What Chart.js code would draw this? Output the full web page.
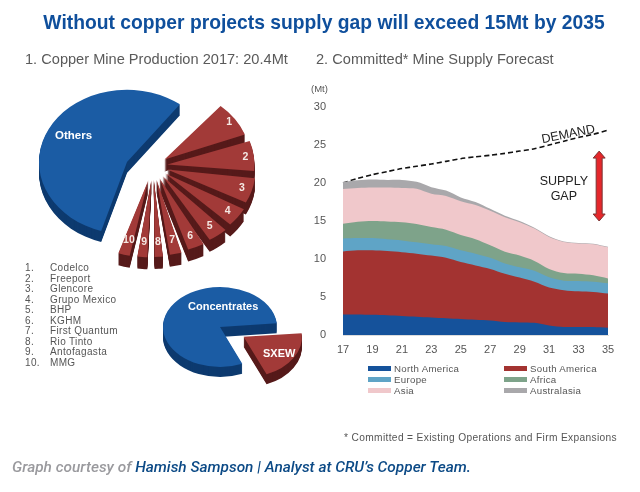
<!DOCTYPE html>
<html>
<head>
<meta charset="utf-8">
<script src="https://cdn.jsdelivr.net/npm/chart.js@4"></script>
<style>
  html, body { margin: 0; padding: 0; background: #fff; }
  #page { position: relative; width: 640px; height: 492px; overflow: hidden; font-family: "Liberation Sans", Arial, sans-serif; }
  #page canvas { position: absolute; left: 0; top: 0; }
  .txt { position: absolute; white-space: nowrap; line-height: 1; }
  .center { transform: translateX(-50%); }
  .pie-label { color: #fff; font-weight: bold; font-size: 11px; }
  .sub { font-size: 14.6px; color: #5a5a5a; top: 52px; }
  .small { font-size: 10px; color: #555; letter-spacing: .35px; }
  .legend-text { font-size: 9.7px; letter-spacing: .3px; }
  .swatch { position: absolute; width: 23px; height: 5px; }
</style>
</head>
<body>
<div id="page">
  <canvas id="othersPie"></canvas>
  <canvas id="minesPie"></canvas>
  <canvas id="formPie"></canvas>
  <canvas id="supplyChart" width="640" height="492"></canvas>

  <div class="txt center" style="left:324px;top:13px;font-size:19.3px;font-weight:bold;color:#0f4f9c">Without copper projects supply gap will exceed 15Mt by 2035</div>
  <div class="txt sub" style="left:25px">1. Copper Mine Production 2017: 20.4Mt</div>
  <div class="txt sub" style="left:316px">2. Committed* Mine Supply Forecast</div>

  <div class="txt pie-label" style="left:55px;top:130px;font-size:11.5px">Others</div>
  <div class="txt pie-label" style="left:188px;top:301px">Concentrates</div>
  <div class="txt pie-label" style="left:263px;top:348px">SXEW</div>

  <div id="companyList"></div>
  <div id="legendBox"></div>

  <div class="txt" style="left:311px;top:84px;font-size:9.5px;color:#555">(Mt)</div>
  <div class="txt small" style="left:344px;top:433px;font-size:10.2px">* Committed = Existing Operations and Firm Expansions</div>
  <div class="txt" style="left:12px;top:460px;font-family:Roboto;font-style:italic;font-weight:500;font-size:15.4px;color:#9a9a9e">Graph courtesy of <span style="color:#0c4a86">Hamish Sampson | Analyst at CRU’s Copper Team.</span></div>
</div>

<script>
// ===============================
// DATA
// ===============================
const years = ["17","18","19","20","21","22","23","24","25","26","27","28","29","30","31","32","33","34","35"];
const yTicks = [0, 5, 10, 15, 20, 25, 30];

const northAmerica = [2.7,2.7,2.65,2.6,2.5,2.4,2.3,2.2,2.1,2.0,1.9,1.7,1.65,1.6,1.25,1.05,1.05,1.05,0.95];
const southAmerica = [8.3,8.45,8.5,8.45,8.4,8.3,8.15,7.95,7.5,7.15,6.8,6.35,5.9,5.4,5.0,4.85,4.7,4.6,4.5];
const europe = [1.7,1.6,1.6,1.55,1.55,1.5,1.5,1.55,1.55,1.55,1.45,1.35,1.35,1.45,1.35,1.25,1.35,1.35,1.35];
const africa = [1.95,2.15,2.25,2.35,2.4,2.4,2.25,2.15,2.0,1.9,1.65,1.55,1.55,1.3,1.1,1.0,0.95,0.85,0.65];
const asia = [4.55,4.45,4.4,4.45,4.5,4.65,4.4,4.45,4.45,4.5,4.55,4.55,4.4,4.25,4.2,4.1,4.0,4.1,4.1];
const australasia = [0.95,1.0,1.05,1.0,1.05,0.9,0.85,0.7,0.5,0.4,0.25,0.2,0.15,0.1,0.1,0.05,0.05,0.05,0.05];
const demand = [20.0,20.6,21.1,21.5,21.9,22.2,22.5,22.85,23.2,23.45,23.65,23.9,24.2,24.5,25.0,25.5,26.0,26.4,26.95];

const regionNames = ["North America","South America","Europe","Africa","Asia","Australasia"];
const regionColors = ["#15529b","#a33331","#5fa4c6","#7ea38a","#f0c8cb","#a9a8ab"];

const companies = ["Codelco","Freeport","Glencore","Grupo Mexico","BHP","KGHM","First Quantum","Rio Tinto","Antofagasta","MMG"];
const companyOutput = [1.70,1.47,1.25,0.96,0.85,0.74,0.57,0.45,0.51,0.57];
const othersOutput = 11.33;
const sliceNumbers = ["1","2","3","4","5","6","7","8","9","10"];

const formNames = ["Concentrates","SXEW"];
const formOutput = [16.3,4.1];

const BLUE = "#1b5ca4", BLUE_DARK = "#0d3a6f", RED = "#a23a38", RED_DARK = "#561a1a";

// ===============================
// PLAIN TEXT BITS
// ===============================
const listBox = document.getElementById("companyList");
companies.forEach((name, i) => {
  const top = 263 + i * 10.55;
  listBox.innerHTML += `<div class="txt small" style="left:25px;top:${top}px">${i + 1}.</div>` +
    `<div class="txt small" style="left:50px;top:${top}px">${name}</div>`;
});

const legendBox = document.getElementById("legendBox");
regionNames.forEach((name, i) => {
  const left = i % 2 ? 504 : 368;
  const top = 364 + Math.floor(i / 2) * 11;
  legendBox.innerHTML += `<div class="swatch" style="left:${left}px;top:${top + 2}px;background:${regionColors[i]}"></div>` +
    `<div class="txt small legend-text" style="left:${left + 26}px;top:${top}px">${name}</div>`;
});

// ===============================
// 3D LOOK FOR THE PIES
// squash into an ellipse and stamp darker copies underneath
// ===============================
const tiltPlugin = {
  id: "tilt",
  beforeDatasetsDraw(chart, args, opts) {
    const ctx = chart.ctx;
    const meta = chart.getDatasetMeta(0);
    const cx = meta.data[0].x, cy = meta.data[0].y;
    ctx.save();
    ctx.translate(cx, cy);
    ctx.scale(1, opts.squash);
    ctx.translate(-cx, -cy);
    for (let d = opts.depth; d > 0; d--) {
      ctx.save();
      ctx.translate(0, d / opts.squash);
      meta.data.forEach((arc, i) => {
        if (!opts.sideColors[i]) return;
        const keep = arc.options;
        arc.options = Object.assign(Object.create(keep), {
          backgroundColor: opts.sideColors[i],
          borderColor: opts.sideColors[i]
        });
        arc.draw(ctx);
        arc.options = keep;
      });
      ctx.restore();
    }
  },
  afterDatasetsDraw(chart, args, opts) {
    const ctx = chart.ctx;
    ctx.restore();
    if (!opts.numbers) return;
    const meta = chart.getDatasetMeta(0);
    ctx.fillStyle = "#f4e9e4";
    ctx.font = "bold 10.5px 'Liberation Sans'";
    ctx.textAlign = "center";
    ctx.textBaseline = "middle";
    opts.numbers.forEach((t, i) => {
      const arc = meta.data[i];
      const a = (arc.startAngle + arc.endAngle) / 2;
      ctx.fillText(t, arc.x + Math.cos(a) * opts.numberRadius, arc.y + Math.sin(a) * opts.numberRadius * opts.squash);
    });
  }
};

// each pie gets its own square canvas, placed so its middle lands on box.x / box.y
function buildPie(id, box, radius, rotation, values, colors, sides, offsets, tilt) {
  const canvas = document.getElementById(id);
  const size = 360;
  canvas.width = size;
  canvas.height = size;
  canvas.style.left = (box.x - size / 2) + "px";
  canvas.style.top = (box.y - size / 2) + "px";
  return new Chart(canvas, {
    type: "pie",
    data: {
      datasets: [{
        data: values,
        backgroundColor: colors,
        borderWidth: 0,
        offset: offsets
      }]
    },
    options: {
      responsive: false,
      animation: false,
      rotation: rotation,
      radius: radius,
      plugins: {
        legend: { display: false },
        tooltip: { enabled: false },
        tilt: Object.assign({ sideColors: sides }, tilt)
      }
    },
    plugins: [tiltPlugin]
  });
}

const mineValues = companyOutput.concat([othersOutput]);
const noSlice = "rgba(0,0,0,0)";

buildPie("othersPie", { x: 127, y: 162 }, 88, 37,
  mineValues,
  companies.map(() => noSlice).concat([BLUE]),
  companies.map(() => null).concat([BLUE_DARK]),
  0,
  { squash: 0.82, depth: 11 });

buildPie("minesPie", { x: 153, y: 166 }, 79, 40,
  mineValues,
  companies.map(() => RED).concat([noSlice]),
  companies.map(() => RED_DARK).concat([null]),
  companies.map((c, i) => 56 + i * 1.8).concat([0]),
  { squash: 0.82, depth: 12, numbers: sliceNumbers, numberRadius: 93 });

buildPie("formPie", { x: 220, y: 327 }, 57, 157,
  formOutput,
  [BLUE, RED],
  [BLUE_DARK, RED_DARK],
  [0, 110],
  { squash: 0.7, depth: 10 });

// ===============================
// SUPPLY vs DEMAND
// ===============================
const regionSeries = [northAmerica, southAmerica, europe, africa, asia, australasia];

const gapMarks = {
  id: "gapMarks",
  afterDraw(chart) {
    const { ctx, scales: { x, y } } = chart;
    ctx.save();

    // DEMAND label sits above the line
    ctx.save();
    ctx.translate(x.getPixelForValue(15.3), y.getPixelForValue(26.4));
    ctx.rotate(-0.2);
    ctx.fillStyle = "#222";
    ctx.font = "12.5px 'Liberation Sans'";
    ctx.textAlign = "center";
    ctx.textBaseline = "middle";
    ctx.fillText("DEMAND", 0, 0);
    ctx.restore();

    ctx.fillStyle = "#222";
    ctx.font = "12.5px 'Liberation Sans'";
    ctx.textAlign = "center";
    ctx.textBaseline = "middle";
    ctx.fillText("SUPPLY", x.getPixelForValue(15), y.getPixelForValue(20.2));
    ctx.fillText("GAP", x.getPixelForValue(15), y.getPixelForValue(18.2));

    // red double arrow
    const ax = x.getPixelForValue(17.4);
    const top = y.getPixelForValue(24.2), bottom = y.getPixelForValue(15);
    ctx.beginPath();
    ctx.moveTo(ax, top);
    ctx.lineTo(ax + 6, top + 7);
    ctx.lineTo(ax + 3, top + 7);
    ctx.lineTo(ax + 3, bottom - 7);
    ctx.lineTo(ax + 6, bottom - 7);
    ctx.lineTo(ax, bottom);
    ctx.lineTo(ax - 6, bottom - 7);
    ctx.lineTo(ax - 3, bottom - 7);
    ctx.lineTo(ax - 3, top + 7);
    ctx.lineTo(ax - 6, top + 7);
    ctx.closePath();
    ctx.fillStyle = "#e5272b";
    ctx.strokeStyle = "#7a3534";
    ctx.lineWidth = 1;
    ctx.fill();
    ctx.stroke();
    ctx.restore();
  }
};

new Chart(document.getElementById("supplyChart"), {
  type: "line",
  data: {
    labels: years,
    datasets: regionSeries.map((values, i) => ({
      label: regionNames[i],
      data: values,
      backgroundColor: regionColors[i],
      borderWidth: 0,
      pointRadius: 0,
      fill: true,
      tension: 0.3,
      stack: "supply",
      yAxisID: "y"
    })).concat([{
      label: "Demand",
      data: demand,
      borderColor: "#111",
      borderWidth: 1.6,
      borderDash: [5, 3],
      pointRadius: 0,
      fill: false,
      tension: 0.2,
      yAxisID: "yDemand"
    }])
  },
  options: {
    responsive: false,
    animation: false,
    layout: { padding: { left: 313, right: 32, top: 107, bottom: 127 } },
    plugins: { legend: { display: false }, tooltip: { enabled: false } },
    scales: {
      x: {
        offset: false,
        grid: { display: false, drawTicks: false },
        border: { color: "#ddd" },
        afterFit(s) { s.height = 30; },
        ticks: {
          autoSkip: false,
          maxRotation: 0,
          padding: 8,
          color: "#555",
          font: { family: "Liberation Sans", size: 11 },
          callback(v, i) { return i % 2 ? "" : years[i]; }
        }
      },
      y: {
        stacked: true,
        min: 0,
        max: 30,
        grid: { display: false, drawTicks: false },
        border: { display: false },
        afterFit(s) { s.width = 30; },
        afterBuildTicks(s) { s.ticks = yTicks.map(v => ({ value: v })); },
        ticks: { padding: 17, color: "#555", font: { family: "Liberation Sans", size: 11 } }
      },
      yDemand: { display: false, min: 0, max: 30 }
    }
  },
  plugins: [gapMarks]
});
</script>
</body>
</html>
